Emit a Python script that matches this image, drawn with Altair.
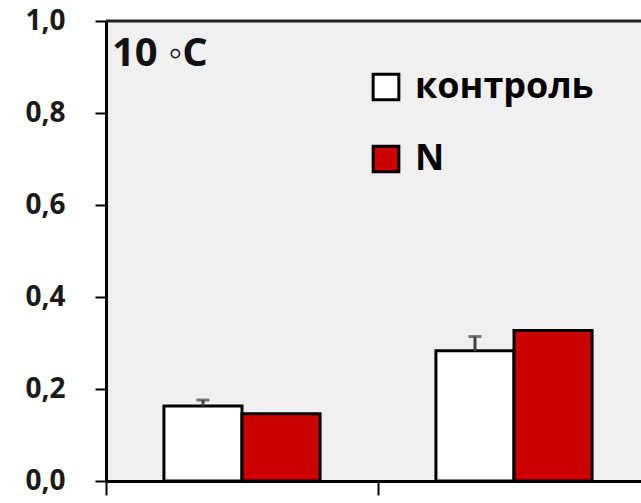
import altair as alt
import pandas as pd

# Group positions along the x axis (band index) and the measured values
groups = [0, 1]
series = ["контроль", "N"]
control = [0.163, 0.283]
control_err = [0.013, 0.031]
nitrogen = [0.146, 0.327]
panel_label = ["10 ◦C"]

BAR_W = 0.287          # bar width in band units
X_MAX = 535 / 272      # visible part of the x range, in band units
FONT = "Open Sans"
RED = "#cc0000"

rows = []
for g, c, e, n in zip(groups, control, control_err, nitrogen):
    rows.append({"group": g, "series": series[0], "value": c, "err": e,
                 "x": g + 0.5 - BAR_W, "x2": g + 0.5})
    rows.append({"group": g, "series": series[1], "value": n, "err": 0.0,
                 "x": g + 0.5, "x2": g + 0.5 + BAR_W})
df = pd.DataFrame(rows)
df["base"] = 0.0

x_scale = alt.Scale(domain=[0, X_MAX], nice=False, zero=False)
y_scale = alt.Scale(domain=[0, 1], nice=False)

bars = alt.Chart(df).mark_bar(stroke="black", strokeWidth=3).encode(
    x=alt.X("x:Q", scale=x_scale, title=None,
            axis=alt.Axis(values=[0, 1, 2], labels=False, grid=False,
                          domainColor="black", domainWidth=3,
                          tickColor="black", tickWidth=2, tickSize=14)),
    x2="x2:Q",
    y=alt.Y("value:Q", scale=y_scale, title=None,
            axis=alt.Axis(values=[0, 0.2, 0.4, 0.6, 0.8, 1.0], grid=False,
                          labelExpr="replace(format(datum.value, '.1f'), '.', ',')",
                          labelFont=FONT, labelFontSize=28, labelFontWeight="bold",
                          labelColor="#1a1a1a", labelPadding=30, labelFlush=False,
                          domainColor="black", domainWidth=3,
                          tickColor="black", tickWidth=2, tickSize=11)),
    y2="base:Q",
    color=alt.Color("series:N",
                    scale=alt.Scale(domain=series, range=["white", RED]),
                    sort=series,
                    legend=alt.Legend(title=None, orient="none",
                                      legendX=262, legendY=48, padding=0,
                                      symbolType="square", symbolSize=660,
                                      symbolStrokeColor="black",
                                      symbolStrokeWidth=3,
                                      labelFont=FONT, labelFontSize=36,
                                      labelFontWeight="bold", labelColor="black",
                                      labelOffset=11, labelLimit=400,
                                      rowPadding=34)),
)

err_df = df[df["err"] > 0].assign(top=lambda d: d["value"] + d["err"],
                                  xc=lambda d: (d["x"] + d["x2"]) / 2)

stems = alt.Chart(err_df).mark_rule(color="#404040", strokeWidth=3).encode(
    x=alt.X("xc:Q", scale=x_scale),
    y=alt.Y("value:Q", scale=y_scale),
    y2="top:Q",
)
caps = alt.Chart(err_df).mark_tick(color="#404040", thickness=3, size=13,
                                   orient="horizontal").encode(
    x=alt.X("xc:Q", scale=x_scale),
    y=alt.Y("top:Q", scale=y_scale),
)

# Top edge of the plot frame
top_edge = alt.Chart(pd.DataFrame({"v": [1.0]})).mark_rule(
    color="#222222", strokeWidth=3).encode(y=alt.Y("v:Q", scale=y_scale))

# Temperature label in the upper-left corner of the panel
label = alt.Chart(pd.DataFrame({"t": panel_label})).mark_text(
    font=FONT, fontSize=40, fontWeight="bold", color="#111111",
    align="left", baseline="alphabetic",
).encode(text="t:N", x=alt.value(6), y=alt.value(45))

chart = alt.layer(bars, stems, caps, top_edge, label).properties(
    width=535, height=460,
    autosize=alt.AutoSizeParams(type="none"),
    padding={"left": 106, "top": 21, "right": 0, "bottom": 22},
    background="white",
).configure_view(fill="#f0f0f0", stroke=None)

chart.save("out.html", embed_options={"renderer": "svg", "actions": False})
